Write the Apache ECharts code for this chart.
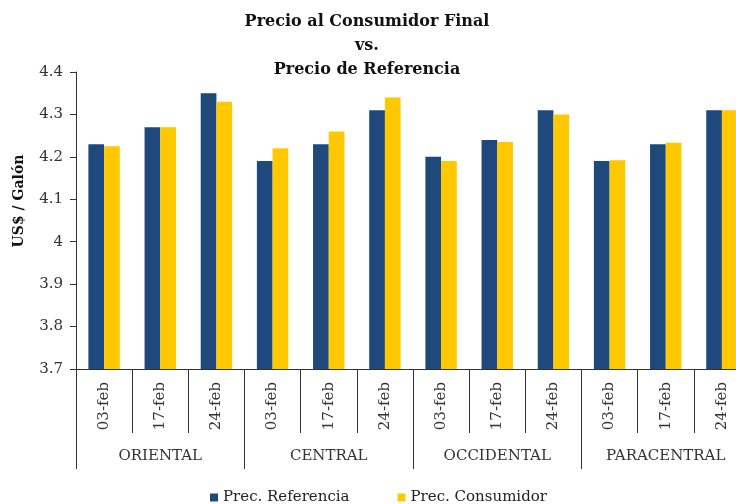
<!DOCTYPE html>
<html>
<head>
<meta charset="utf-8">
<script src="https://cdn.jsdelivr.net/npm/echarts@6/dist/echarts.min.js"></script>
<style>html,body{margin:0;padding:0;background:#fff}#c{width:736px;height:504px}</style>
</head>
<body>
<div id="c"></div>
<script>
var dates = ['03-feb','17-feb','24-feb','03-feb','17-feb','24-feb','03-feb','17-feb','24-feb','03-feb','17-feb','24-feb'];
var groups = ['ORIENTAL','CENTRAL','OCCIDENTAL','PARACENTRAL'];
var precReferencia = [4.23,4.27,4.35, 4.19,4.23,4.31, 4.20,4.24,4.31, 4.19,4.23,4.31];
var precConsumidor = [4.225,4.27,4.33, 4.22,4.26,4.34, 4.19,4.235,4.30, 4.192,4.233,4.31];
var yTicks = {min:3.7, max:4.4, step:0.1};

var serif = 'DejaVu Serif';
var chart = echarts.init(document.getElementById('c'));
var gridPos = {left:76, width:674, top:72, height:297, containLabel:false, outerBoundsMode:'none'};
chart.setOption({
  animation:false,
  title:{
    text:'Precio al Consumidor Final\nvs.\nPrecio de Referencia',
    left:362, top:5, textAlign:'center',
    textStyle:{fontFamily:serif, fontWeight:'bold', fontSize:16, lineHeight:24, color:'#111'}
  },
  legend:{
    data:['Prec. Referencia','Prec. Consumidor'],
    left:205, top:485, icon:'rect', itemWidth:8, itemHeight:8, itemGap:48,
    textStyle:{fontFamily:serif, fontSize:15, color:'#222'}
  },
  graphic:[{
    type:'text', x:19, y:201, rotation:Math.PI/2,
    style:{text:'US$ / Galón', font:'bold 14px "DejaVu Serif"', fill:'#111', textAlign:'center', textVerticalAlign:'middle'}
  }],
  grid:[Object.assign({}, gridPos), Object.assign({}, gridPos)],
  xAxis:[{
    type:'category', gridIndex:0, data:dates, position:'bottom',
    axisLine:{show:true, lineStyle:{color:'#333', width:1}},
    axisTick:{show:true, interval:0, length:64, lineStyle:{color:'#333'}},
    axisLabel:{interval:0, rotate:90, margin:13, fontFamily:serif, fontSize:15, color:'#333'}
  },{
    type:'category', gridIndex:1, data:groups, position:'bottom',
    axisLine:{show:false},
    axisTick:{show:true, interval:0, length:100, lineStyle:{color:'#333'}},
    axisLabel:{interval:0, margin:80, fontFamily:serif, fontSize:15, color:'#333'}
  }],
  yAxis:[{
    type:'value', gridIndex:0, min:yTicks.min, max:yTicks.max, interval:yTicks.step,
    axisLine:{show:true, lineStyle:{color:'#333'}},
    axisTick:{show:true, length:6, lineStyle:{color:'#333'}},
    splitLine:{show:false},
    axisLabel:{margin:13, fontFamily:serif, fontSize:15, color:'#333',
      formatter:function(v){return String(Math.round(v*10)/10);}}
  },{
    type:'value', gridIndex:1, min:0, max:1, show:false
  }],
  series:[{
    name:'Prec. Referencia', type:'bar', xAxisIndex:0, yAxisIndex:0,
    data:precReferencia, barWidth:15.7, barGap:'0%',
    itemStyle:{color:'#1F497D'}
  },{
    name:'Prec. Consumidor', type:'bar', xAxisIndex:0, yAxisIndex:0,
    data:precConsumidor, barWidth:15.7, barGap:'0%',
    itemStyle:{color:'#FFC800'}
  }]
});
</script>
</body>
</html>
